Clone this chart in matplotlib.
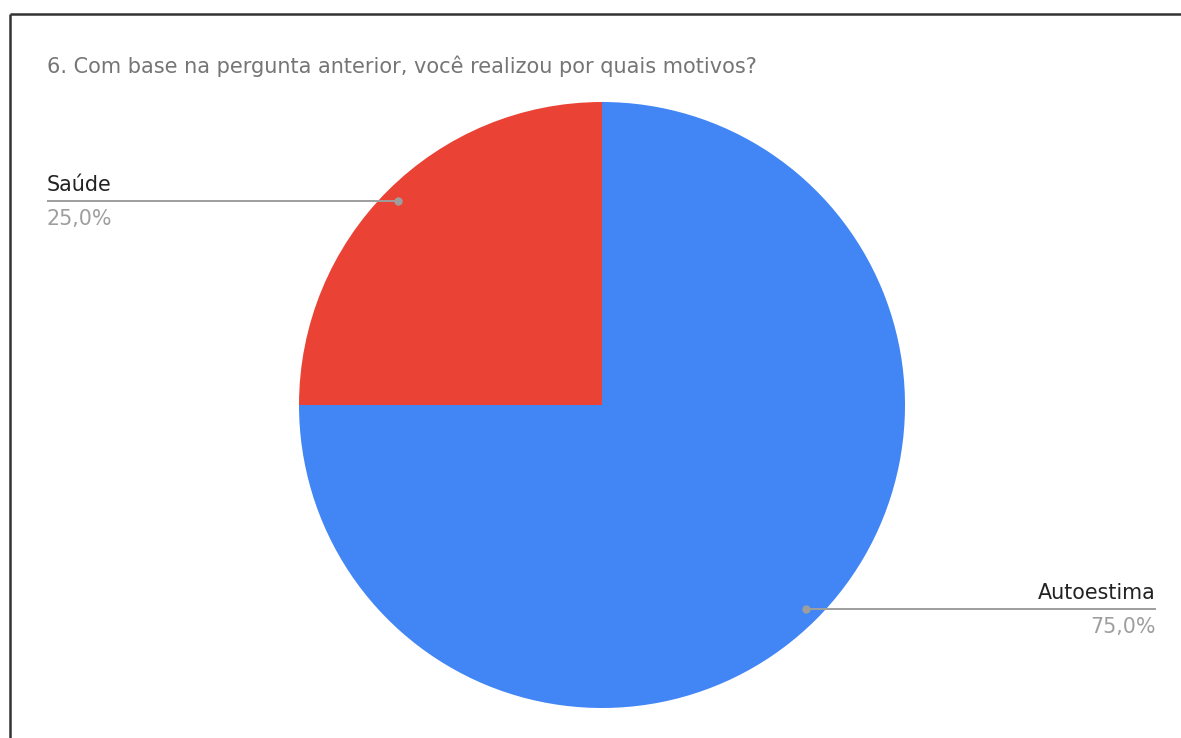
import numpy as np
import matplotlib.pyplot as plt

# survey answers (share of respondents, %)
categories = ["Autoestima", "Saúde"]
shares = [75.0, 25.0]
pct_labels = ["75,0%", "25,0%"]
colors = ["#4285f4", "#ea4335"]
title = "6. Com base na pergunta anterior, você realizou por quais motivos?"

W, H = 1181, 738
plt.rcParams['font.family'] = ['DejaVu Sans']

fig = plt.figure(figsize=(W / 100, H / 100), dpi=100)
ax = fig.add_axes([0, 0, 1, 1])

cx, cy, r = 602, H - 405, 303
wedges, _ = ax.pie(shares, colors=colors, startangle=90, counterclock=False,
                   center=(cx, cy), radius=r, frame=True,
                   wedgeprops=dict(linewidth=0))
ax.set_xlim(0, W)
ax.set_ylim(0, H)
ax.set_aspect('equal')
ax.axis('off')

# outer frame (top and left edges)
ax.plot([10, W], [H - 14, H - 14], color="#333333", lw=1.8, solid_capstyle='butt')
ax.plot([10, 10], [H - 14, 0], color="#333333", lw=1.8, solid_capstyle='butt')

ax.text(47, H - 73, title, fontsize=15.05, color="#757575", va='baseline', ha='left')

# leader lines: dot at 0.95 r along the middle of each wedge, then horizontal
label_x = {"Autoestima": 1156, "Saúde": 47}
for w, name, pct in zip(wedges, categories, pct_labels):
    mid = np.deg2rad((w.theta1 + w.theta2) / 2)
    dx = cx + 0.95 * r * np.cos(mid)
    dy = cy + 0.95 * r * np.sin(mid)
    tx = label_x[name]
    ha = 'right' if tx > cx else 'left'
    ax.plot([dx, tx], [dy, dy], color="#9e9e9e", lw=1.4, solid_capstyle='butt')
    ax.plot(dx, dy, 'o', color="#9e9e9e", ms=5)
    ax.text(tx, dy + 10, name, fontsize=14.9, color="#222222", ha=ha, va='baseline')
    ax.text(tx, dy - 24, pct, fontsize=14.9, color="#9e9e9e", ha=ha, va='baseline')

fig.savefig("out.png", dpi=100, facecolor="white")
